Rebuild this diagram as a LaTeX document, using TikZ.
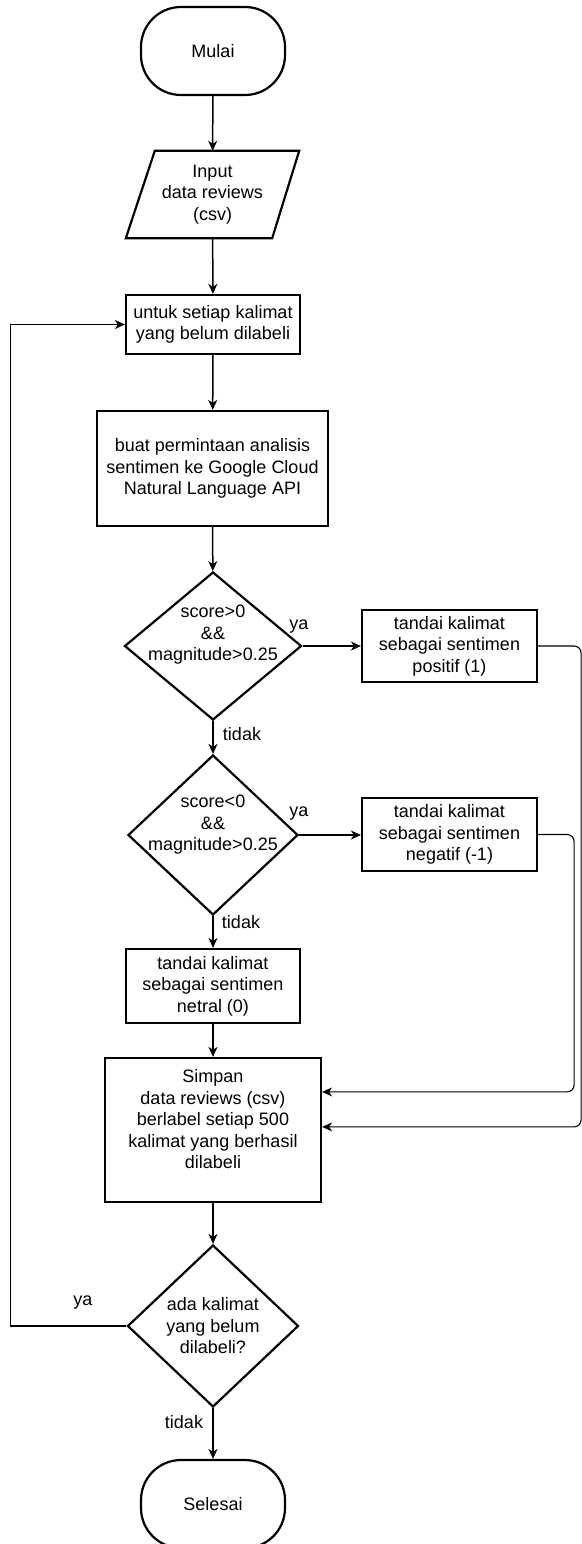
\documentclass[tikz,border=0pt]{standalone}
\usepackage{fontspec}
\setmainfont{Liberation Sans}
\usetikzlibrary{shapes.geometric,arrows.meta,calc}
\begin{document}
\begin{tikzpicture}[x=1pt,y=-1pt,
  every node/.style={font=\fontsize{18}{21.5}\selectfont},
  box/.style={draw, line width=2.2pt, align=center, inner sep=0pt},
  term/.style={box, rounded corners=40pt, minimum width=144pt, minimum height=88pt},
  dia/.style={draw, diamond, line width=2.2pt, inner sep=0pt},
  lbl/.style={align=center, inner sep=0pt},
  arr/.style={line width=1.5pt, -{Stealth[length=10pt,width=9pt,inset=3pt]}},
  thinarr/.style={line width=1.1pt, rounded corners=7pt, -{Stealth[length=10pt,width=9pt,inset=3pt]}},
  looparr/.style={line width=1.1pt, -{Stealth[length=10pt,width=9pt,inset=3pt]}},
]
\useasboundingbox (0,0) rectangle (581,1544);

\node[term] (start) at (213,51) {Mulai};
\node[lbl, minimum width=173pt, minimum height=87pt] (inp) at (212.5,194.5) {Input\\data reviews\\(csv)};
\draw[line width=2.2pt] (inp.south west) -- ($(inp.north west)+(29,0)$) -- (inp.north east) -- ($(inp.south east)+(-27,0)$) -- cycle;

\node[box, minimum width=174pt, minimum height=59pt] (loop) at (213,324.5) {untuk setiap kalimat\\yang belum dilabeli};
\node[box, minimum width=231pt, minimum height=115pt] (req) at (212.5,468.5) {buat permintaan analisis\\sentimen ke Google Cloud\\Natural Language API};

\node[dia, minimum width=177pt, minimum height=148pt, label={[lbl,yshift=11pt]center:score>0\\\&\&\\magnitude>0.25}] (d1) at (213,646) {};
\node[box, minimum width=175pt, minimum height=72pt] (pos) at (449.5,646) {tandai kalimat\\sebagai sentimen\\positif (1)};

\node[dia, minimum width=170pt, minimum height=160pt, label={[lbl,yshift=10pt]center:score<0\\\&\&\\magnitude>0.25}] (d2) at (213,835) {};
\node[box, minimum width=175pt, minimum height=73pt] (neg) at (449.5,834.5) {tandai kalimat\\sebagai sentimen\\negatif (-1)};

\node[box, minimum width=174pt, minimum height=74pt] (neu) at (213,986) {tandai kalimat\\sebagai sentimen\\netral (0)};
\node[box, minimum width=216pt, minimum height=144pt] (save) at (213,1130) {Simpan\\data reviews (csv)\\berlabel setiap 500\\kalimat yang berhasil\\dilabeli\\\mbox{}};

\node[dia, minimum width=171pt, minimum height=162pt, label={[lbl]center:ada kalimat\\yang belum\\dilabeli?}] (d3) at (213,1326) {};
\node[term] (end) at (213,1504) {Selesai};

\coordinate (sa) at ($(save.north east)+(0,70)$);
\coordinate (sb) at ($(save.north east)+(0,35)$);

\draw[arr] (start) -- (inp);
\draw[arr] (inp) -- (loop);
\draw[arr] (loop) -- (req);
\draw[arr] (req) -- (d1);
\draw[arr] (d1) -- (pos);
\draw[arr] (d1) -- (d2);
\draw[arr] (d2.east) -- (d2.east -| neg.west);
\draw[arr] (d2) -- (neu);
\draw[arr] (neu) -- (save);
\draw[arr] (save) -- (d3);
\draw[arr] (d3) -- (end);
\draw[thinarr] (pos.east) -- ++(43,0) |- (sa);
\draw[thinarr] (neg.east) -- ++(36,0) |- (sb);
\draw[looparr] (d3.west) -- ++(-116,0) |- (loop.west);

\node[lbl] (ya1) at (299,627) {ya};
\node[lbl] (td1) at (242,734) {tidak};
\node[lbl] (ya2) at (299,814) {ya};
\node[lbl] (td2) at (241,922) {tidak};
\node[lbl] (ya3) at (83,1303) {ya};
\node[lbl] (td3) at (184,1422) {tidak};
\end{tikzpicture}
\end{document}
